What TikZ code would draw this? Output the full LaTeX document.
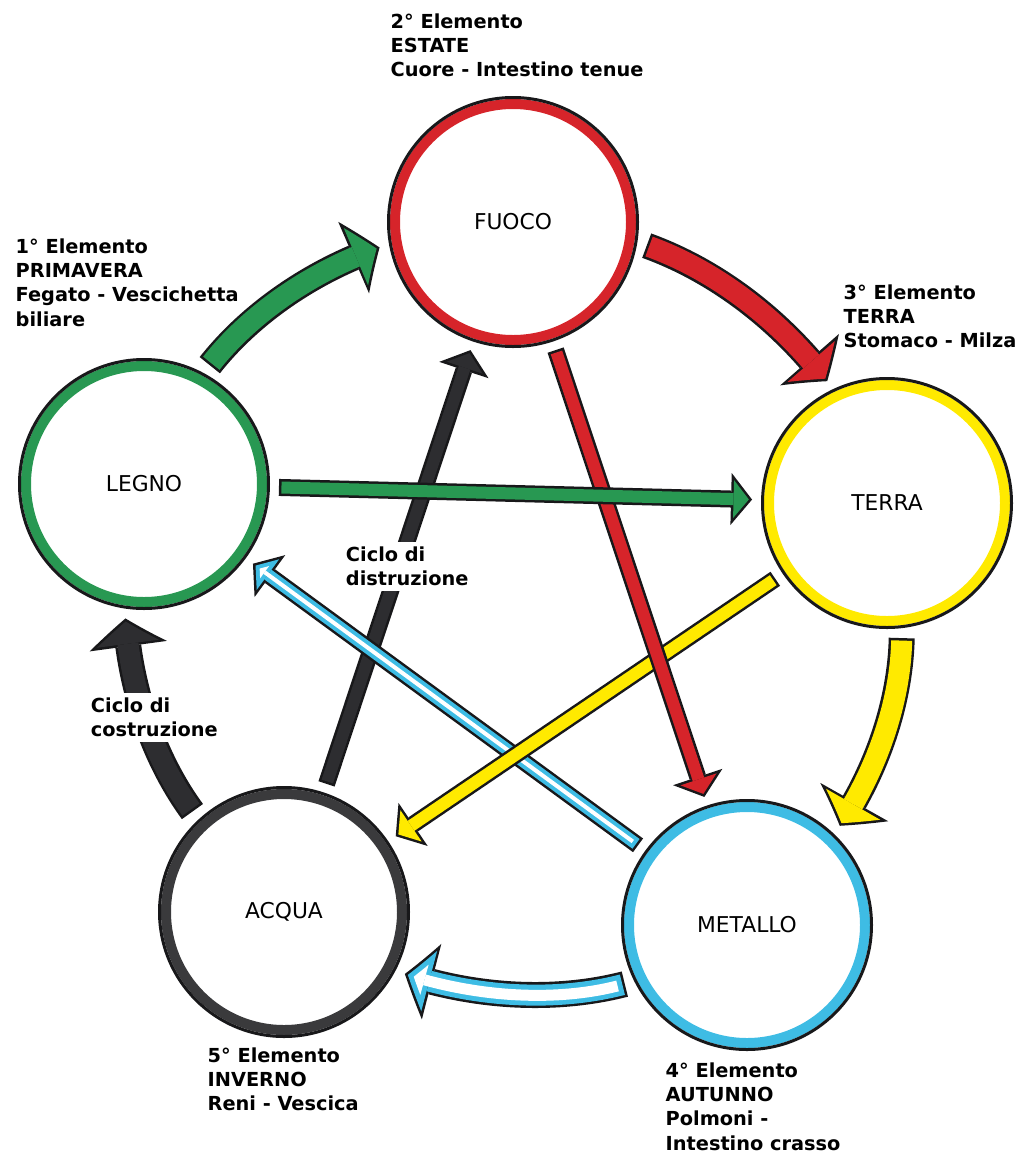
\documentclass[tikz,border=0pt]{standalone}
\usepackage{fontspec}
\setmainfont{DejaVu Sans}
\usetikzlibrary{arrows.meta,bending}

\definecolor{rosso}{RGB}{214,36,42}
\definecolor{verde}{RGB}{40,152,82}
\definecolor{giallo}{RGB}{255,234,0}
\definecolor{azzurro}{RGB}{62,188,228}
\definecolor{grigio}{RGB}{58,58,60}
\definecolor{nero}{RGB}{45,45,48}
\definecolor{bordo}{RGB}{24,24,26}

\tikzset{
  elemento/.style={circle, draw=#1, line width=0.1cm, minimum size=2.36cm, inner sep=0pt,
    font=\fontsize{6.2}{7}\selectfont},
  nota/.style={anchor=north west, inner sep=0pt, align=left,
    font=\fontsize{5.5}{6.9}\selectfont\bfseries},
  ciclo/.style={nota, fill=white, inner sep=1.5pt},
  giro/.style={bend left=17, looseness=0.9},
  grossa/.style={draw=bordo, line width=0.26cm, shorten <=0.13cm, shorten >=0.13cm,
    -{Triangle[width=0.78cm, length=0.28cm, line width=0pt, bend]}},
  grossapiena/.style={draw=#1, line width=0.21cm, shorten <=0.155cm, shorten >=0.161cm,
    -{Triangle[width=0.624cm, length=0.224cm, line width=0pt, bend]}},
  grossavuota/.style={draw=white, line width=0.11cm, shorten <=0.205cm, shorten >=0.223cm,
    -{Triangle[width=0.313cm, length=0.112cm, line width=0pt, bend]}},
  sottile/.style={draw=bordo, line width=0.17cm, shorten <=0.12cm, shorten >=0.12cm,
    -{Triangle[width=0.52cm, length=0.21cm, line width=0pt]}},
  sottilepiena/.style={draw=#1, line width=0.12cm, shorten <=0.145cm, shorten >=0.152cm,
    -{Triangle[width=0.379cm, length=0.153cm, line width=0pt]}},
  sottilevuota/.style={draw=white, line width=0.04cm, shorten <=0.185cm, shorten >=0.203cm,
    -{Triangle[width=0.152cm, length=0.061cm, line width=0pt]}}
}

\begin{document}
\begin{tikzpicture}
    \useasboundingbox (0,0) rectangle (10.27,-11.63);

    \node[elemento=rosso] (fuoco) at (5.13,-2.22) {FUOCO};
    \node[elemento=verde] (legno) at (1.44,-4.84) {LEGNO};
    \node[elemento=giallo] (terra) at (8.87,-5.03) {TERRA};
    \node[elemento=azzurro] (metallo) at (7.47,-9.25) {METALLO};
    \node[elemento=grigio] (acqua) at (2.84,-9.12) {ACQUA};
    \foreach \n in {fuoco,legno,terra,metallo,acqua}
        \draw[bordo, line width=0.03cm] (\n.center) circle (1.245);

    \draw[sottile] (acqua) -- (fuoco);
    \draw[sottilepiena=nero] (acqua) -- (fuoco);
    \draw[sottile] (metallo) -- (legno);
    \draw[sottilepiena=azzurro] (metallo) -- (legno);
    \draw[sottilevuota] (metallo) -- (legno);
    \draw[sottile] (terra) -- (acqua);
    \draw[sottilepiena=giallo] (terra) -- (acqua);
    \draw[sottile] (fuoco) -- (metallo);
    \draw[sottilepiena=rosso] (fuoco) -- (metallo);
    \draw[sottile] (legno) -- (terra);
    \draw[sottilepiena=verde] (legno) -- (terra);

    \draw[grossa] (legno.62) to[giro] (fuoco.190);
    \draw[grossapiena=verde] (legno.62) to[giro] (fuoco.190);
    \draw[grossa] (fuoco.-9) to[giro] (terra.115);
    \draw[grossapiena=rosso] (fuoco.-9) to[giro] (terra.115);
    \draw[grossa] (terra.-83) to[giro] (metallo.46);
    \draw[grossapiena=giallo] (terra.-83) to[giro] (metallo.46);
    \draw[grossa] (metallo.-153) to[giro] (acqua.-28);
    \draw[grossapiena=azzurro] (metallo.-153) to[giro] (acqua.-28);
    \draw[grossavuota] (metallo.-153) to[giro] (acqua.-28);
    \draw[grossa] (acqua.133) to[giro] (legno.261);
    \draw[grossapiena=nero] (acqua.133) to[giro] (legno.261);

    \node[nota] (txtlegno) at (0.15,-2.38) {1° Elemento\\PRIMAVERA\\Fegato - Vescichetta\\biliare};
    \node[nota] (txtfuoco) at (3.90,-0.13) {2° Elemento\\ESTATE\\Cuore - Intestino tenue};
    \node[nota] (txtterra) at (8.43,-2.84) {3° Elemento\\TERRA\\Stomaco - Milza};
    \node[nota] (txtmetallo) at (6.65,-10.62) {4° Elemento\\AUTUNNO\\Polmoni -\\Intestino crasso};
    \node[nota] (txtacqua) at (2.07,-10.47) {5° Elemento\\INVERNO\\Reni - Vescica};
    \node[ciclo] (distruzione) at (3.40,-5.41) {Ciclo di\\distruzione};
    \node[ciclo] (costruzione) at (0.85,-6.92) {Ciclo di\\costruzione};
\end{tikzpicture}
\end{document}
